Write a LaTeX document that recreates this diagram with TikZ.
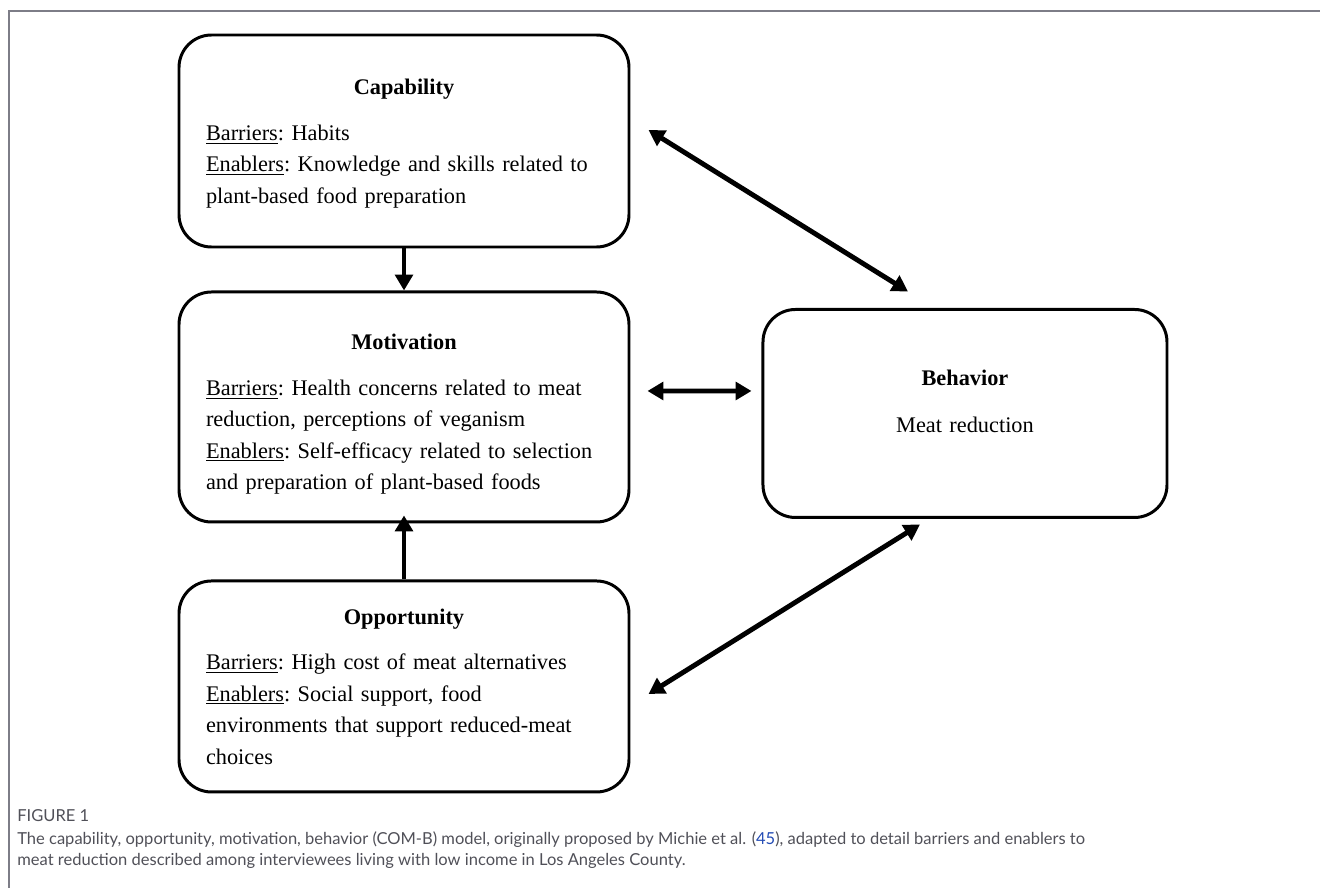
\documentclass[tikz,border=0pt]{standalone}
\usepackage{fontspec}
\setmainfont{Liberation Serif}
\newfontfamily\capfont{Lato}
\usetikzlibrary{arrows.meta, positioning, calc}
\definecolor{framegray}{RGB}{125,125,135}
\definecolor{capgray}{RGB}{80,80,88}
\definecolor{reflink}{RGB}{35,75,180}
\tikzset{
  combox/.style={rectangle, draw, line width=1.7pt, rounded corners=0.65cm,
                 minimum width=9cm, text width=7.92cm, align=left, inner sep=0pt,
                 font=\fontsize{12.7}{17.9}\selectfont\frenchspacing},
  outbox/.style={combox, minimum width=8.08cm, text width=7cm, align=center},
  arr/.style={-{Triangle[length=9pt,width=10pt]}, line width=2.8pt},
  biarr/.style={{Triangle[length=9pt,width=10pt]}-{Triangle[length=9pt,width=10pt]}, line width=2.8pt},
  frame/.style={draw=framegray, line width=0.6pt},
  capnode/.style={anchor=north west, inner sep=0pt, align=left, text=capgray,
                  font=\capfont\fontsize{9.4}{11.8}\selectfont},
}

\begin{document}
\begin{tikzpicture}
  \useasboundingbox (0,0) rectangle (26.4,-17.76);
  \draw[frame] (26.4,-0.22) -- (0.18,-0.22) -- (0.18,-17.76);

  % COM-B boxes
  \node[combox, minimum height=4.24cm] (cap) at (8.08,-2.82)
    {{\centering\rule{0pt}{0.42cm}\textbf{Capability}\par}\vspace{8pt}\raggedright
     \underline{Barriers}: Habits\\
     \underline{Enablers}: Knowledge and skills related to\\
     plant-based food preparation};
  \node[combox, minimum height=4.6cm, below=0.84cm of cap] (mot)
    {{\centering\rule{0pt}{0.6cm}\textbf{Motivation}\par}\vspace{8pt}\raggedright
     \underline{Barriers}: Health concerns related to meat\\
     reduction, perceptions of veganism\\
     \underline{Enablers}: Self-efficacy related to selection\\
     and preparation of plant-based foods};
  \node[combox, minimum height=4.22cm, below=1.12cm of mot] (opp)
    {{\centering\textbf{Opportunity}\par}\vspace{8pt}\raggedright
     \underline{Barriers}: High cost of meat alternatives\\
     \underline{Enablers}: Social support, food\\
     environments that support reduced-meat\\
     choices};
  \node[outbox, minimum height=4.16cm, right=2.62cm of mot, yshift=-0.13cm] (beh)
    {\textbf{Behavior}\\[9pt] Meat reduction\rule[-0.5cm]{0pt}{0.5cm}};

  % links
  \draw[arr] (cap) -- (mot);
  \draw[arr] (opp.north) -- ([yshift=0.16cm]mot.south);
  \draw[biarr] ([xshift=0.34cm,yshift=0.32cm]mot.east) -- ([xshift=-0.2cm,yshift=0.45cm]beh.west);
  \draw[biarr] ([xshift=0.36cm,yshift=0.22cm]cap.east) -- ([xshift=-1.14cm,yshift=0.33cm]beh.north);
  \draw[biarr] ([xshift=0.36cm,yshift=-0.15cm]opp.east) -- ([xshift=-0.9cm,yshift=-0.11cm]beh.south);

  % caption
  \node[capnode] (figlabel) at (0.34,-16.18) {FIGURE 1};
  \node[capnode, below=0.2cm of figlabel.south west, anchor=north west] (figtext)
    {The capability, opportunity, motivation, behavior (COM-B) model, originally proposed by Michie et al. ({\color{reflink}45}), adapted to detail barriers and enablers to\\
     meat reduction described among interviewees living with low income in Los Angeles County.};
\end{tikzpicture}
\end{document}
